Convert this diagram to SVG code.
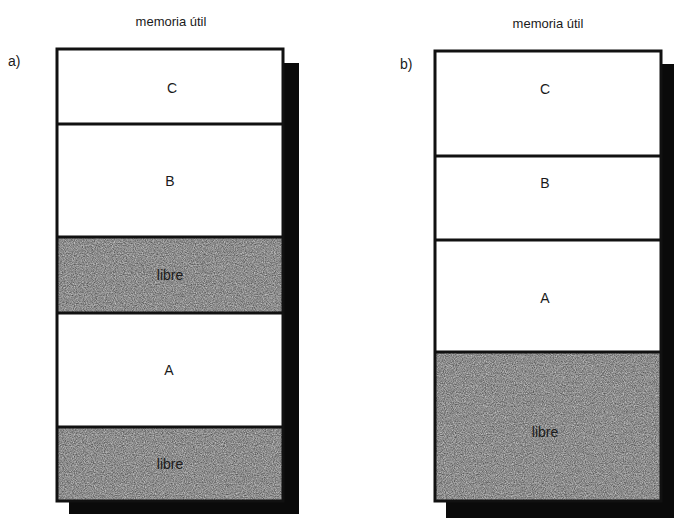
<svg xmlns="http://www.w3.org/2000/svg" width="674" height="518" viewBox="0 0 674 518">
  <style>
    .lbl { font-family: "Liberation Sans", Arial, sans-serif; font-size: 14px; fill: #1a1a1a; text-anchor: middle; }
    .cap { font-family: "Liberation Sans", Arial, sans-serif; font-size: 13px; fill: #1a1a1a; text-anchor: middle; }
    .tag { font-family: "Liberation Sans", Arial, sans-serif; font-size: 14px; fill: #1a1a1a; }
    .used { fill: #ffffff; }
    .free { fill: #808080; filter: url(#grain); }
    .edge { fill: none; stroke: #111; stroke-width: 3; }
    .div { stroke: #111; stroke-width: 3; }
    .shadow { fill: #0a0a0a; }
  </style>
  <defs>
    <!-- grainy grey fill for the free blocks -->
    <filter id="grain" x="0" y="0" width="100%" height="100%" color-interpolation-filters="sRGB">
      <feTurbulence type="fractalNoise" baseFrequency="0.9" numOctaves="2" seed="7" result="n"/>
      <feColorMatrix in="n" type="matrix" values="0.6 0 0 0 0.25  0.6 0 0 0 0.25  0.6 0 0 0 0.25  0 0 0 0 1" result="g"/>
      <feComposite in="g" in2="SourceGraphic" operator="in"/>
    </filter>
  </defs>

  <rect width="674" height="518" fill="#ffffff"/>

  <!-- memory map a) -->
  <g id="map-a">
    <text class="cap" x="171" y="26">memoria útil</text>
    <text class="tag" x="8" y="66">a)</text>
    <rect class="shadow" x="283" y="63" width="16" height="450"/>
    <rect class="shadow" x="69" y="500" width="230" height="14"/>
    <g id="a-C"><rect class="used" x="57" y="49" width="226" height="75"/><text class="lbl" x="172" y="93">C</text></g>
    <g id="a-B"><rect class="used" x="57" y="124" width="226" height="113"/><text class="lbl" x="170" y="186">B</text></g>
    <g id="a-free1"><rect class="free" x="57" y="237" width="226" height="76"/><text class="lbl" x="170" y="280">libre</text></g>
    <g id="a-A"><rect class="used" x="57" y="313" width="226" height="114"/><text class="lbl" x="169" y="375">A</text></g>
    <g id="a-free2"><rect class="free" x="57" y="427" width="226" height="74"/><text class="lbl" x="170" y="469">libre</text></g>
    <line class="div" x1="57" y1="124" x2="283" y2="124"/>
    <line class="div" x1="57" y1="237" x2="283" y2="237"/>
    <line class="div" x1="57" y1="313" x2="283" y2="313"/>
    <line class="div" x1="57" y1="427" x2="283" y2="427"/>
    <rect class="edge" x="57" y="49" width="226" height="452"/>
  </g>

  <!-- memory map b) -->
  <g id="map-b">
    <text class="cap" x="548" y="28">memoria útil</text>
    <text class="tag" x="400" y="69">b)</text>
    <rect class="shadow" x="661" y="64" width="13" height="454"/>
    <rect class="shadow" x="446" y="500" width="228" height="18"/>
    <g id="b-C"><rect class="used" x="435" y="51" width="226" height="105"/><text class="lbl" x="545" y="94">C</text></g>
    <g id="b-B"><rect class="used" x="435" y="156" width="226" height="84"/><text class="lbl" x="545" y="188">B</text></g>
    <g id="b-A"><rect class="used" x="435" y="240" width="226" height="112"/><text class="lbl" x="545" y="303">A</text></g>
    <g id="b-free"><rect class="free" x="435" y="352" width="226" height="149"/><text class="lbl" x="545" y="437">libre</text></g>
    <line class="div" x1="435" y1="156" x2="661" y2="156"/>
    <line class="div" x1="435" y1="240" x2="661" y2="240"/>
    <line class="div" x1="435" y1="352" x2="661" y2="352"/>
    <rect class="edge" x="435" y="51" width="226" height="450"/>
  </g>
</svg>
